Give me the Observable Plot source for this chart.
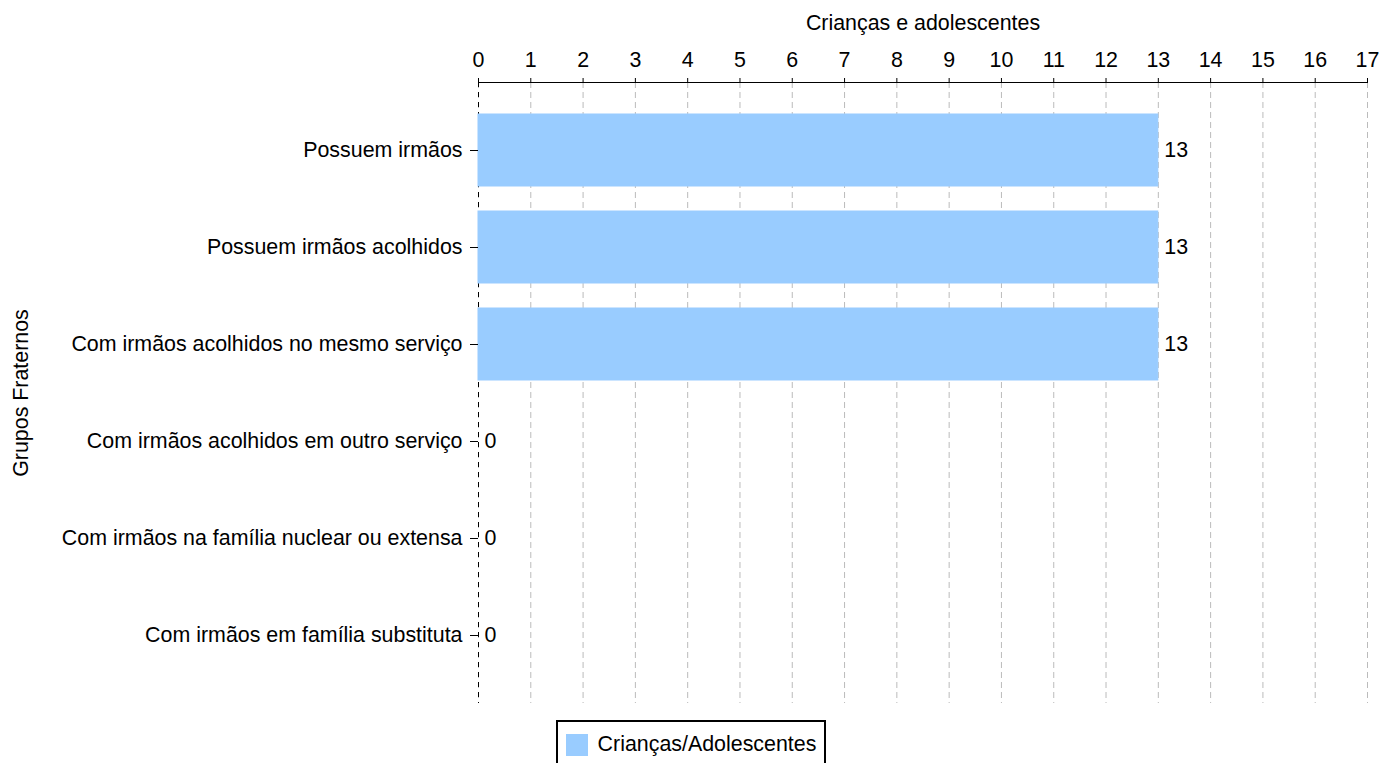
<!DOCTYPE html>
<html>
<head>
<meta charset="utf-8">
<script src="https://cdn.jsdelivr.net/npm/d3@7"></script>
<script src="https://cdn.jsdelivr.net/npm/@observablehq/plot@0.6"></script>
<style>
  body { margin: 0; background: #fff; font-family: "Liberation Sans", Arial, sans-serif; }
  #chart svg { display: block; }
  .legend { display: flex; justify-content: center; margin-top: 8px; }
  .legend .box { border: 2px solid #000; padding: 10px 8px 10px 8px; display: flex; align-items: center; font-size: 21.4px; color: #000; }
  .legend .sw { width: 22px; height: 22px; background: #99ccff; margin-right: 10px; }
</style>
</head>
<body>
<div id="chart"></div>
<script>
const categories = [
  "Possuem irmãos",
  "Possuem irmãos acolhidos",
  "Com irmãos acolhidos no mesmo serviço",
  "Com irmãos acolhidos em outro serviço",
  "Com irmãos na família nuclear ou extensa",
  "Com irmãos em família substituta"
];
const values = [13, 13, 13, 0, 0, 0];
const xTicks = d3.range(0, 18);
const seriesName = "Crianças/Adolescentes";
const xTitle = "Crianças e adolescentes";
const yTitle = "Grupos Fraternos";

const data = categories.map((c, i) => ({category: c, value: values[i]}));

const plot = Plot.plot({
  width: 1382,
  height: 712,
  marginTop: 82,
  marginBottom: 9,
  marginLeft: 478,
  marginRight: 15,
  style: {fontFamily: '"Liberation Sans", Arial, sans-serif', fontSize: "21.4px", color: "#000", background: "#fff"},
  x: {domain: [0, 17]},
  y: {domain: categories, paddingInner: 0.26, paddingOuter: 0.31},
  marks: [
    Plot.gridX(xTicks, {stroke: "#bbb", strokeOpacity: 1, strokeDasharray: "6,4"}),
    Plot.ruleX([0], {stroke: "#000", strokeDasharray: "5,5"}),
    Plot.barX(data, {x: "value", y: "category", fill: "#99ccff", stroke: "#99ccff", strokeWidth: 1}),
    Plot.text(data, {x: "value", y: "category", text: d => String(d.value), textAnchor: "start", dx: 6, fontSize: 21.4, fill: "#000"}),
    Plot.frame({anchor: "top", stroke: "#000"}),
    Plot.axisX(xTicks, {anchor: "top", tickSize: 5, tickPadding: 11, label: xTitle, labelAnchor: "center", labelOffset: 68, labelArrow: "none", tickFormat: d => String(d)}),
    Plot.axisY({tickSize: 8, tickPadding: 8, label: yTitle, labelAnchor: "center", labelOffset: 466, labelArrow: "none"})
  ]
});
document.getElementById("chart").appendChild(plot);

const legend = document.createElement("div");
legend.className = "legend";
legend.innerHTML = `<div class="box"><div class="sw"></div><span>${seriesName}</span></div>`;
document.body.appendChild(legend);
</script>
</body>
</html>
